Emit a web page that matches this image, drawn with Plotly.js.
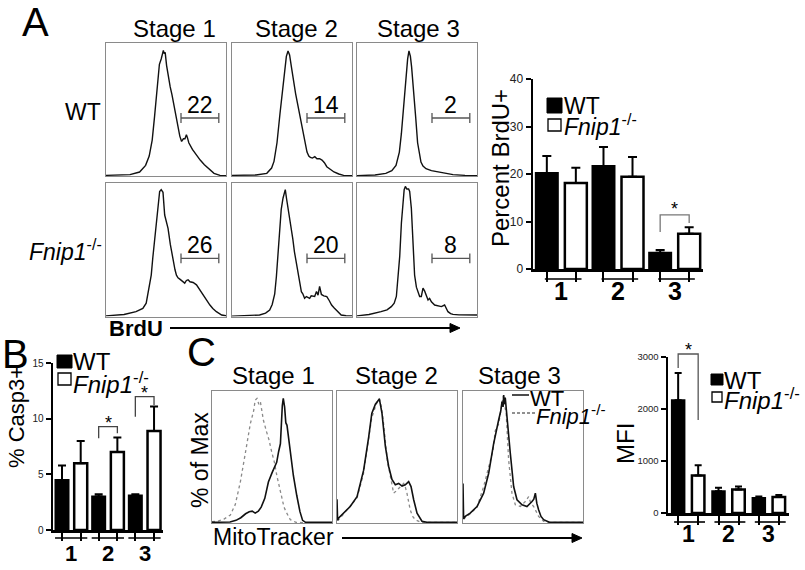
<!DOCTYPE html>
<html><head><meta charset="utf-8">
<script src="https://cdn.plot.ly/plotly-3.0.1.min.js"></script>
<style>html,body{margin:0;padding:0;background:#fff}</style>
</head><body><div id="chart" style="width:805px;height:570px"></div>
<script>
// ================= DATA =================
const stages = ['Stage 1', 'Stage 2', 'Stage 3'];
const nameWT = 'WT';
const nameKO = '<i>Fnip1</i><sup>-/-</sup>';
const groups = ['1', '2', '3'];

// Panel A: BrdU histograms (channel, % of max)
const brduWT_S1_x = [0, 20, 28, 33, 36, 38.5, 40.5, 42.5, 44.5, 46, 46.8, 47.8, 48.5, 49.3, 50.5, 52, 53.5, 55, 56.5, 58, 60, 61.5, 63, 64.5, 65.8, 67, 67.8, 69, 72, 75, 78.5, 82, 86, 90, 95, 100];
const brduWT_S1_y = [0.5, 1, 3, 8, 15, 27, 45, 65, 84, 88, 92, 94.5, 92, 93, 83, 73, 67, 61, 54, 46, 37, 30, 26, 28, 28, 31, 29, 25, 20, 16, 12, 8.5, 5, 2, 0.5, 0.3];
const brduWT_S2_x = [0, 20, 29, 33, 35, 37.5, 40, 43, 45.3, 46.7, 48, 49.5, 51.4, 53, 54.5, 56, 57.5, 59.7, 61, 62.5, 64, 65.3, 67, 69, 70.8, 73, 75, 77, 79, 82, 85, 89, 93, 100];
const brduWT_S2_y = [0.5, 0.8, 2, 6, 11, 25, 47, 73, 90, 94, 91, 82, 70, 62, 55, 48, 42, 31, 25, 18, 15, 14, 13.5, 14.5, 13, 13, 12, 10, 7, 5, 3, 1.5, 0.5, 0.3];
const brduWT_S3_x = [0, 15, 24, 29, 32.5, 35.3, 37, 38, 39.5, 40.8, 42.2, 43.3, 44.5, 45.5, 46.5, 47.8, 49, 50.5, 52, 53.3, 55, 57.5, 62, 68.6, 75, 80, 90, 100];
const brduWT_S3_y = [0.3, 0.8, 2, 4, 8, 18, 32, 43, 60, 75, 88, 94, 90, 82, 72, 60, 43, 25, 15, 10.5, 7.5, 5.5, 4, 3, 1.8, 1, 0.5, 0.3];
const brduKO_S1_x = [0, 15, 25, 30.7, 33.5, 36, 37.7, 39, 40.5, 42, 43.3, 44.7, 46, 47.5, 48.9, 50, 51.7, 53.6, 55.9, 57.5, 58.7, 60, 61.5, 63.5, 65.6, 67, 68.4, 70, 72.6, 75.4, 78, 81, 83.8, 86.6, 89, 92, 96.4, 100];
const brduKO_S1_y = [0.5, 1.5, 3.6, 6.1, 10, 22, 31, 44, 56, 70, 81, 93.6, 95, 93, 76, 72, 66, 54, 41, 35, 31, 29, 28, 26.5, 25, 27, 27.5, 26, 25.5, 23.7, 20, 16.2, 12, 8.6, 6, 3.6, 1.1, 0.6];
const brduKO_S2_x = [0, 15, 23, 28, 31.4, 33.5, 35.6, 37, 38.3, 39.7, 41, 42.5, 43.5, 44.4, 45.5, 46.7, 48, 49.4, 50.7, 52, 53.5, 55, 56.4, 57.8, 59, 60.5, 62, 64.7, 66, 67.6, 68.9, 70.4, 71.7, 73, 74.5, 76.5, 79, 81, 83, 85, 87, 89, 91, 95, 100];
const brduKO_S2_y = [0.3, 0.6, 1.1, 2.5, 4.9, 9, 17, 30, 45, 66, 80, 88.6, 92, 95, 88, 81, 75, 68.6, 58, 48.6, 41, 33.6, 24, 18.6, 17, 13.6, 14.9, 13.6, 15.5, 14.9, 15, 18.7, 16, 22.5, 16.5, 15.5, 14.9, 12, 8.6, 6.5, 4.9, 3, 1.1, 0.6, 0.5];
const brduKO_S3_x = [0, 10, 20, 25, 28.6, 31, 32.8, 34.2, 35.6, 37, 38.3, 39.3, 40.3, 41.5, 43, 43.9, 45.3, 46.7, 48, 49.5, 50.8, 52.2, 53.6, 55, 56.4, 57.8, 59.2, 60.5, 62, 64.7, 67, 70.3, 73, 74.5, 75.8, 78, 80, 85, 100];
const brduKO_S3_y = [0.5, 1.5, 3.6, 5, 7.4, 10, 15, 28, 45, 70, 88, 95, 97.4, 95.5, 95.5, 93.6, 81, 56, 31, 22, 18.6, 15, 15, 21.2, 19, 14.9, 12.4, 13.6, 11, 8.6, 8, 7.4, 8.6, 6, 3.6, 2.2, 1.6, 1.2, 1.1];
const gatePctWT = [22, 14, 2];
const gatePctKO = [26, 20, 8];
const gateChannels = [62.5, 94];

// Panel A bars: Percent BrdU+
const brduWT = [20.2, 21.7, 3.4];
const brduWTsem = [3.6, 4.0, 0.6];
const brduKO = [18.1, 19.4, 7.4];
const brduKOsem = [3.2, 4.2, 1.4];

// Panel B bars: % Casp3+
const casp3WT = [4.5, 3.0, 3.1];
const casp3WTsem = [1.3, 0.2, 0.1];
const casp3KO = [6.0, 7.0, 8.9];
const casp3KOsem = [2.0, 1.3, 2.2];

// Panel C: MitoTracker histograms
const mitoWT_S1_x = [0, 15, 20, 24, 28, 31, 33.5, 36, 38.6, 41, 44, 47, 50, 52, 53.9, 55.5, 57, 58.6, 59.4, 60.5, 61.5, 62.5, 64, 65.5, 67.8, 70.6, 73.3, 75.5, 78, 100];
const mitoWT_S1_y = [0.5, 0.8, 2, 4, 7, 8.5, 9, 7.5, 9, 12, 18.7, 31, 38, 42, 46, 54, 60, 89, 94.4, 88, 76, 74, 62, 52, 36, 21, 8.6, 2, 0.5, 0.5];
const mitoKO_S1_x = [0, 5, 10, 15.3, 19.4, 23.6, 27.8, 31.9, 34.7, 36, 37.5, 39, 40.3, 42.8, 45.5, 47.5, 49.7, 52, 54, 56, 58, 60, 62, 65.3, 70, 75, 100];
const mitoKO_S1_y = [1, 1.5, 3, 6, 14, 31, 53, 75, 85, 93, 94.4, 90, 92, 78, 69, 63, 54, 46, 36, 28, 21, 12, 8, 2.5, 0.5, 0.3, 0.3];
const mitoWT_S2_x = [0, 0.5, 1.4, 5.6, 11, 16.7, 22.2, 26.4, 29, 32, 33.9, 35.3, 37.5, 40.3, 43, 45.8, 48.6, 51.4, 54.2, 56.9, 59.7, 61.7, 63.9, 66.7, 70.8, 75, 100];
const mitoWT_S2_y = [18, 2, 3.8, 7.5, 12.5, 20, 40, 65, 83, 90, 92, 94, 83, 58, 43, 33, 29, 30, 28, 29, 31.4, 27.6, 17.6, 7.5, 1.3, 0.5, 0.5];
const mitoKO_S2_x = [0, 1.4, 5.6, 11, 16.7, 22, 26.4, 29, 32, 34, 35.3, 37, 38.5, 40.3, 42, 43.5, 45, 47.2, 49, 51.4, 53.5, 55.6, 57, 58.3, 61, 63, 65.3, 70, 100];
const mitoKO_S2_y = [3, 2.5, 7, 12.5, 19, 37, 62, 80, 88, 93, 94, 88, 78, 60, 47, 40, 33, 22.6, 24, 26.4, 28, 30, 27, 22.6, 10, 5, 2.5, 0.5, 0.5];
const mitoWT_S3_x = [0, 0.5, 1.9, 6, 11.7, 17.2, 21.4, 25.5, 29.7, 31.5, 32.5, 33.4, 33.9, 34.5, 35.2, 36.7, 38, 39.4, 42.2, 45, 49.2, 53.3, 57.5, 59, 60.3, 61.5, 63, 65, 67.2, 72, 100];
const mitoWT_S3_y = [30, 3, 5, 7.5, 12.5, 22.6, 37.7, 60, 78, 85, 92, 88, 97, 90, 95, 78, 65, 53, 27.6, 17.6, 13.8, 12.5, 16.3, 18, 22.6, 15, 10, 5, 2.5, 0.5, 0.5];
const mitoKO_S3_x = [0, 1.9, 6, 11.7, 17.2, 20, 22.8, 25, 26.9, 29.7, 31.5, 32.5, 33.5, 34.5, 36, 37, 38, 40.8, 43.6, 47.8, 51.9, 54.7, 56.5, 58.9, 63, 67.2, 72, 100];
const mitoKO_S3_y = [5, 4, 7, 12, 27.6, 37, 47.7, 55, 70, 75, 85, 93, 96, 90, 83, 65, 48, 22.6, 13.8, 12.5, 16.3, 20, 15, 12.5, 5, 1.3, 0.5, 0.5];

// Panel C bars: MFI
const mfiWT = [2170, 420, 290];
const mfiWTsem = [520, 65, 25];
const mfiKO = [720, 450, 310];
const mfiKOsem = [200, 60, 35];

// ================= LAYOUT HELPERS =================
const W = 805, H = 570;
const FONT = 'Liberation Sans, Arial, Helvetica, sans-serif';
const px = x => x / W;
const py = y => 1 - y / H;
const dX = (a, b) => [px(a), px(b)];
const dY = (top, bot) => [py(bot), py(top)];

const layout = {
  width: W, height: H, margin: {l: 0, r: 0, t: 0, b: 0},
  paper_bgcolor: '#fff', plot_bgcolor: 'rgba(0,0,0,0)',
  showlegend: false, barmode: 'overlay',
  font: {family: FONT, color: '#000'},
  annotations: [], shapes: []
};
const traces = [];
let axN = 0;

function ann(text, x, y, size, extra) {
  layout.annotations.push(Object.assign({
    text: text, x: px(x), y: py(y), xref: 'paper', yref: 'paper', showarrow: false,
    font: {size: size, family: FONT, color: '#000'}, xanchor: 'center', yanchor: 'middle'
  }, extra || {}));
}
function arrow(x0, x1, y) {
  const head = 10, half = 4.5;
  layout.shapes.push({type: 'line', xref: 'paper', yref: 'paper', x0: px(x0), x1: px(x1 - head + 1),
    y0: py(y), y1: py(y), line: {color: '#000', width: 2.2}});
  layout.shapes.push({type: 'path', xref: 'paper', yref: 'paper',
    path: 'M' + px(x1) + ',' + py(y) + ' L' + px(x1 - head) + ',' + py(y - half) +
          ' L' + px(x1 - head) + ',' + py(y + half) + ' Z',
    fillcolor: '#000', line: {color: '#000', width: 1}});
}

function histAxes(xd, yd) {
  axN++;
  const s = axN === 1 ? '' : String(axN);
  const common = {showline: true, mirror: true, linecolor: '#8a8a8a', linewidth: 1.3,
    showticklabels: false, ticks: '', showgrid: false, zeroline: false, fixedrange: true};
  layout['xaxis' + s] = Object.assign({}, common, {domain: xd, range: [0, 100], anchor: 'y' + s});
  layout['yaxis' + s] = Object.assign({}, common, {domain: yd, range: [0, 100], anchor: 'x' + s});
  return {x: 'x' + s, y: 'y' + s};
}
function histLine(ax, xs, ys, style) {
  traces.push({type: 'scatter', mode: 'lines', x: xs, y: ys, xaxis: ax.x, yaxis: ax.y,
    line: style, hoverinfo: 'skip'});
}

// ================= PANEL A HISTOGRAMS =================
const colsA = [[106, 226], [232, 352], [357, 477]];
const rowsA = [[43, 176], [183, 316.5]];
const brduCurves = [
  [[brduWT_S1_x, brduWT_S1_y], [brduWT_S2_x, brduWT_S2_y], [brduWT_S3_x, brduWT_S3_y]],
  [[brduKO_S1_x, brduKO_S1_y], [brduKO_S2_x, brduKO_S2_y], [brduKO_S3_x, brduKO_S3_y]]
];
const gatePct = [gatePctWT, gatePctKO];
const gateLevel = 43.6;
for (let r = 0; r < 2; r++) {
  for (let c = 0; c < 3; c++) {
    const ax = histAxes(dX(colsA[c][0], colsA[c][1]), dY(rowsA[r][0], rowsA[r][1]));
    histLine(ax, brduCurves[r][c][0], brduCurves[r][c][1], {color: '#111', width: 1.4});
    // gate
    traces.push({type: 'scatter', mode: 'lines+markers', x: gateChannels, y: [gateLevel, gateLevel],
      xaxis: ax.x, yaxis: ax.y, hoverinfo: 'skip',
      line: {color: '#555', width: 1.3},
      marker: {symbol: 'line-ns-open', size: 7, line: {color: '#555', width: 1.3}}});
    layout.annotations.push({text: String(gatePct[r][c]), xref: ax.x, yref: ax.y,
      x: (gateChannels[0] + gateChannels[1]) / 2, y: gateLevel, yanchor: 'bottom', xanchor: 'center',
      yshift: -2, showarrow: false, font: {size: 23, family: FONT, color: '#000'}});
  }
}
const stageXA = [174, 296, 418];
stages.forEach((s, i) => ann(s, stageXA[i], 28, 24));
ann('A', 35, 22, 40);
ann(nameWT, 103, 112, 23, {xanchor: 'right'});
ann(nameKO, 104, 250, 23, {xanchor: 'right'});
ann('<b>BrdU</b>', 107, 328, 22, {xanchor: 'left'});
arrow(170, 460, 328);

// ================= PANEL C HISTOGRAMS =================
const colsC = [[212, 332], [337, 457], [463, 583]];
const rowC = [391, 523];
const mitoCurves = [
  [[mitoWT_S1_x, mitoWT_S1_y], [mitoKO_S1_x, mitoKO_S1_y]],
  [[mitoWT_S2_x, mitoWT_S2_y], [mitoKO_S2_x, mitoKO_S2_y]],
  [[mitoWT_S3_x, mitoWT_S3_y], [mitoKO_S3_x, mitoKO_S3_y]]
];
const styleKO = {color: '#8a8a8a', width: 1.3, dash: 'dot'};
const styleWT = {color: '#111', width: 1.6};
for (let c = 0; c < 3; c++) {
  const ax = histAxes(dX(colsC[c][0], colsC[c][1]), dY(rowC[0], rowC[1]));
  histLine(ax, mitoCurves[c][1][0], mitoCurves[c][1][1], styleKO);
  histLine(ax, mitoCurves[c][0][0], mitoCurves[c][0][1], styleWT);
}
const stageXC = [273, 396, 519];
stages.forEach((s, i) => ann(s, stageXC[i], 375, 24));
ann('C', 201, 352, 40);
ann('% of Max', 200, 460, 23, {textangle: -90});
ann('MitoTracker', 211, 537, 23, {xanchor: 'left'});
arrow(342, 582, 538);
// line legend
layout.shapes.push({type: 'line', xref: 'paper', yref: 'paper', x0: px(512), x1: px(529), y0: py(395), y1: py(395), line: {color: '#111', width: 1.5}});
layout.shapes.push({type: 'line', xref: 'paper', yref: 'paper', x0: px(512), x1: px(535), y0: py(413), y1: py(413), line: {color: '#222', width: 1.2, dash: '3px,2px'}});
ann(nameWT, 528, 398, 22, {xanchor: 'left'});
ann(nameKO, 534, 415, 22, {xanchor: 'left'});

// ================= BAR PANELS =================
function barPanel(cfg) {
  axN++;
  const s = String(axN);
  const xa = 'x' + s, ya = 'y' + s;
  const idx = groups.map((g, i) => i);
  const cWT = idx.map(i => i + cfg.offWT + cfg.bw / 2);
  const cKO = idx.map(i => i + cfg.offKO + cfg.bw / 2);
  const ydom = dY(cfg.yd[0], cfg.yd[1]);
  const vToPaper = v => ydom[0] + (v - cfg.range[0]) / (cfg.range[1] - cfg.range[0]) * (ydom[1] - ydom[0]);
  layout['xaxis' + s] = {domain: dX(cfg.xd[0], cfg.xd[1]), range: [-0.5, 2.5], anchor: ya,
    showline: true, linecolor: '#000', linewidth: 2.5,
    tickmode: 'array', tickvals: cWT.concat(cKO), ticks: 'outside', ticklen: cfg.tickLen, tickwidth: 2, tickcolor: '#000',
    showticklabels: false, showgrid: false, zeroline: false, fixedrange: true};
  layout['yaxis' + s] = {domain: ydom, range: cfg.range, anchor: xa,
    showline: true, linecolor: '#000', linewidth: 2.5,
    tickmode: 'array', tickvals: cfg.yticks, ticks: 'outside', ticklen: 5, tickwidth: 2, tickcolor: '#000',
    tickfont: {size: cfg.tickFont, color: '#222', family: FONT},
    showgrid: false, zeroline: false, fixedrange: true};
  traces.push({type: 'bar', name: nameWT, x: idx, y: cfg.wt, width: cfg.bw, offset: cfg.offWT,
    xaxis: xa, yaxis: ya, hoverinfo: 'skip',
    marker: {color: '#000', line: {color: '#000', width: 2}},
    error_y: {type: 'data', symmetric: false, array: cfg.wtSem, arrayminus: cfg.wtSem.map(() => 0),
      color: '#000', thickness: 2, width: cfg.cap}});
  traces.push({type: 'bar', name: nameKO, x: idx, y: cfg.ko, width: cfg.bw, offset: cfg.offKO,
    xaxis: xa, yaxis: ya, hoverinfo: 'skip',
    marker: {color: '#fff', line: {color: '#000', width: 2.5}},
    error_y: {type: 'data', symmetric: false, array: cfg.koSem, arrayminus: cfg.koSem.map(() => 0),
      color: '#000', thickness: 2, width: cfg.cap}});
  // group underlines + labels
  idx.forEach(i => {
    layout.shapes.push({type: 'line', xref: xa, yref: 'paper', x0: cWT[i] + cfg.ext[0], x1: cKO[i] + cfg.ext[1],
      y0: py(cfg.underY), y1: py(cfg.underY), line: {color: '#000', width: 1.6}});
    layout.annotations.push({text: '<b>' + groups[i] + '</b>', xref: xa, yref: 'paper', x: i,
      y: py(cfg.labelY), xanchor: 'center', yanchor: 'middle', showarrow: false,
      font: {size: cfg.labelSize, family: FONT, color: '#000'}});
  });
  // significance brackets
  cfg.sig.forEach(b => {
    const i = b.g;
    layout.shapes.push({type: 'path', xref: xa, yref: 'paper',
      path: 'M' + cWT[i] + ',' + vToPaper(b.yl) + ' L' + cWT[i] + ',' + vToPaper(b.yt) +
            ' L' + cKO[i] + ',' + vToPaper(b.yt) + ' L' + cKO[i] + ',' + vToPaper(b.yr),
      line: {color: cfg.sigColor, width: 1.3}});
    layout.annotations.push({text: '*', xref: xa, yref: 'paper', x: (cWT[i] + cKO[i]) / 2,
      y: vToPaper(b.ys), xanchor: 'center', yanchor: 'middle', showarrow: false,
      font: {size: 18, family: FONT, color: '#000'}});
  });
}

// A bars
barPanel({xd: [533, 703], yd: [79, 269], range: [0, 40], yticks: [0, 10, 20, 30, 40], tickFont: 12,
  wt: brduWT, wtSem: brduWTsem, ko: brduKO, koSem: brduKOsem,
  bw: 0.388, offWT: -0.45, offKO: 0.062, cap: 4.5, tickLen: 10,
  underY: 279, ext: [-0.035, 0.1], labelY: 291, labelSize: 25,
  sig: [{g: 2, yl: 7.8, yt: 11.4, yr: 9.7, ys: 12.6}], sigColor: '#777'});
ann('Percent BrdU+', 500, 168, 24, {textangle: -90});
layout.shapes.push({type: 'rect', xref: 'paper', yref: 'paper', x0: px(547), x1: px(562), y0: py(113), y1: py(98), fillcolor: '#000', line: {color: '#000', width: 1}});
layout.shapes.push({type: 'rect', xref: 'paper', yref: 'paper', x0: px(548), x1: px(561), y0: py(131), y1: py(119), fillcolor: '#fff', line: {color: '#000', width: 1.3}});
ann(nameWT, 562, 106, 23, {xanchor: 'left'});
ann(nameKO, 562, 125, 23, {xanchor: 'left'});

// B bars
barPanel({xd: [53, 163], yd: [363, 530], range: [0, 15], yticks: [0, 5, 10, 15], tickFont: 10,
  wt: casp3WT, wtSem: casp3WTsem, ko: casp3KO, koSem: casp3KOsem,
  bw: 0.355, offWT: -0.432, offKO: 0.078, cap: 4, tickLen: 8,
  underY: 538, ext: [-0.19, 0.18], labelY: 553, labelSize: 22,
  sig: [{g: 1, yl: 8.24, yt: 9.28, yr: 8.69, ys: 9.6}, {g: 2, yl: 10.18, yt: 11.98, yr: 11.23, ys: 12.3}], sigColor: '#444'});
ann('B', 15, 354, 40);
ann('% Casp3+', 16, 417, 22, {textangle: -90});
layout.shapes.push({type: 'rect', xref: 'paper', yref: 'paper', x0: px(57), x1: px(72), y0: py(368), y1: py(355), fillcolor: '#000', line: {color: '#000', width: 1}});
layout.shapes.push({type: 'rect', xref: 'paper', yref: 'paper', x0: px(58), x1: px(71), y0: py(385), y1: py(373), fillcolor: '#fff', line: {color: '#000', width: 1.3}});
ann(nameWT, 71, 361, 24, {xanchor: 'left'});
ann(nameKO, 71, 383, 24, {xanchor: 'left'});

// C bars
barPanel({xd: [668, 789], yd: [357, 513], range: [0, 3000], yticks: [0, 1000, 2000, 3000], tickFont: 9.5,
  wt: mfiWT, wtSem: mfiWTsem, ko: mfiKO, koSem: mfiKOsem,
  bw: 0.31, offWT: -0.403, offKO: 0.093, cap: 3.5, tickLen: 9,
  underY: 522, ext: [-0.1, 0.17], labelY: 534, labelSize: 23,
  sig: [{g: 0, yl: 2788, yt: 3058, yr: 1788, ys: 3142}], sigColor: '#555'});
ann('MFI', 625, 444, 24, {textangle: -90});
layout.shapes.push({type: 'rect', xref: 'paper', yref: 'paper', x0: px(711), x1: px(723), y0: py(385), y1: py(374), fillcolor: '#000', line: {color: '#000', width: 1}});
layout.shapes.push({type: 'rect', xref: 'paper', yref: 'paper', x0: px(712), x1: px(722), y0: py(402), y1: py(392), fillcolor: '#fff', line: {color: '#000', width: 1.3}});
ann(nameWT, 722, 380, 24, {xanchor: 'left'});
ann(nameKO, 722, 399, 24, {xanchor: 'left'});

Plotly.newPlot('chart', traces, layout, {staticPlot: true, displayModeBar: false});
</script>
</body></html>
